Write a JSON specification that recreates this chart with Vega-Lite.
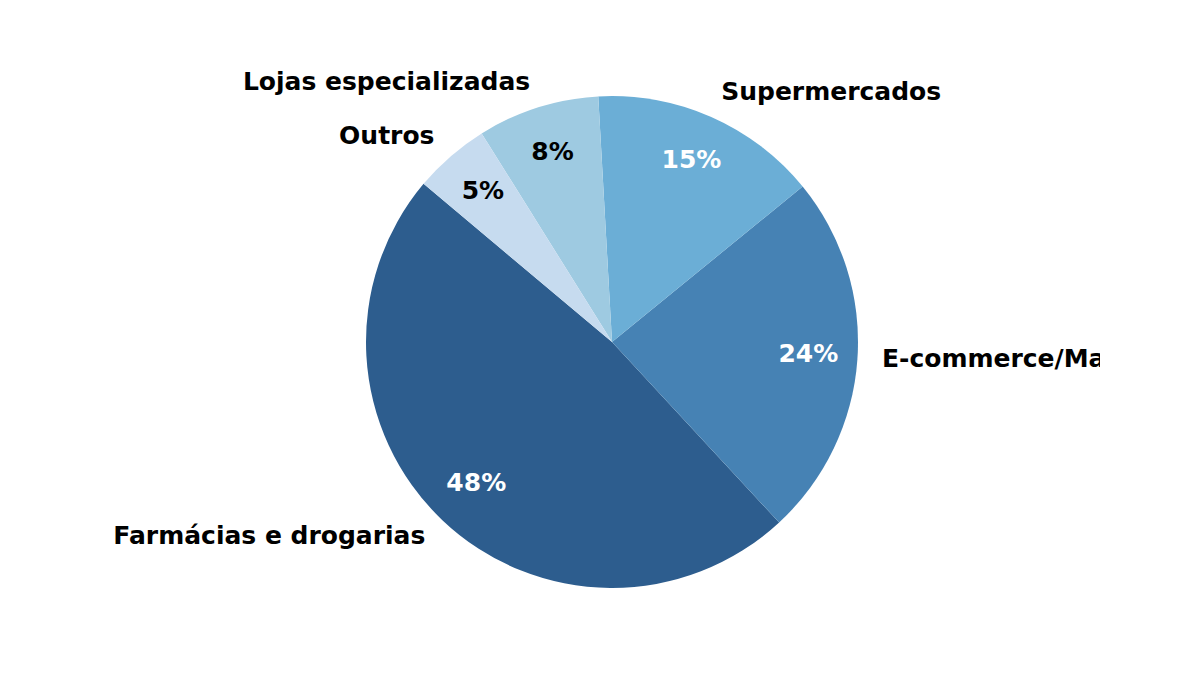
{
  "$schema": "https://vega.github.io/schema/vega-lite/v6.json",
  "autosize": {"type": "none"},
  "padding": {"left": 124, "top": 9, "right": 100, "bottom": 0},
  "width": 976,
  "height": 666,
  "background": "white",
  "view": {"stroke": null},
  "data": {
    "values": [
      {"canal": "Farmácias e drogarias", "share": 0.48},
      {"canal": "E-commerce/Marketplaces", "share": 0.24},
      {"canal": "Supermercados", "share": 0.15},
      {"canal": "Lojas especializadas", "share": 0.08},
      {"canal": "Outros", "share": 0.05}
    ]
  },
  "encoding": {
    "theta": {
      "field": "share",
      "type": "quantitative",
      "stack": true,
      "scale": {"range": [-0.87266, 5.41052]}
    },
    "order": {"field": "share", "type": "quantitative", "sort": "ascending"}
  },
  "layer": [
    {
      "mark": {"type": "arc", "radius": 246},
      "encoding": {
        "color": {
          "field": "canal",
          "type": "nominal",
          "legend": null,
          "scale": {
            "domain": ["Farmácias e drogarias", "E-commerce/Marketplaces", "Supermercados", "Lojas especializadas", "Outros"],
            "range": ["#2d5d8e", "#4682b4", "#6baed6", "#9ecae1", "#c6dbef"]
          }
        }
      }
    },
    {
      "mark": {"type": "text", "radius": 196.8, "font": "DejaVu Sans", "fontWeight": "bold", "fontSize": 25, "baseline": "middle", "align": "center", "dy": -2},
      "encoding": {
        "text": {"field": "share", "type": "quantitative", "format": ".0%"},
        "color": {"condition": {"test": "datum.share >= 0.1", "value": "white"}, "value": "black"}
      }
    },
    {
      "mark": {"type": "text", "radius": 270.6, "font": "DejaVu Sans", "fontWeight": "bold", "fontSize": 25, "baseline": "middle", "align": "left", "clip": true, "color": "black", "dy": -2},
      "encoding": {
        "text": {"condition": {"test": "indexof(['Supermercados', 'E-commerce/Marketplaces'], datum.canal) >= 0", "field": "canal"}, "value": ""}
      }
    },
    {
      "mark": {"type": "text", "radius": 270.6, "font": "DejaVu Sans", "fontWeight": "bold", "fontSize": 25, "baseline": "middle", "align": "right", "color": "black", "dy": -2},
      "encoding": {
        "text": {"condition": {"test": "indexof(['Supermercados', 'E-commerce/Marketplaces'], datum.canal) < 0", "field": "canal"}, "value": ""}
      }
    }
  ]
}
